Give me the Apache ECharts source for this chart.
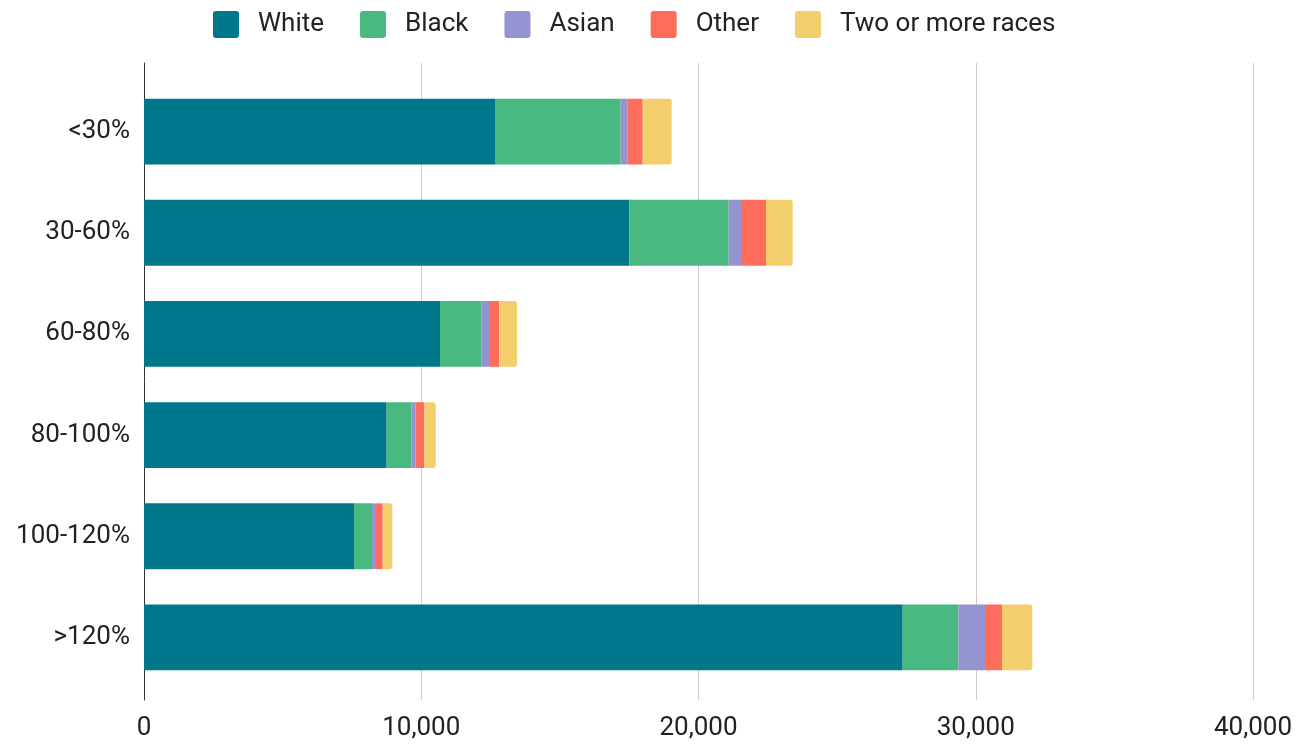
<!DOCTYPE html>
<html><head><meta charset="utf-8">
<script src="https://cdn.jsdelivr.net/npm/echarts@6/dist/echarts.min.js"></script>
<style>html,body{margin:0;padding:0;background:#fff}#c{width:1316px;height:746px}</style>
</head><body><div id="c"></div>
<script>
const categories = ['<30%', '30-60%', '60-80%', '80-100%', '100-120%', '>120%'];
const white = [12660, 17505, 10676, 8753, 7574, 27365];
const black = [4534, 3584, 1504, 902, 650, 2006];
const asian = [238, 480, 264, 145, 144, 999];
const other = [555, 866, 372, 311, 241, 577];
const twoOrMore = [1046, 963, 638, 410, 348, 1093];
const xTicks = [0, 10000, 20000, 30000, 40000];

const seriesDefs = [
  ['White', white, '#00778a'],
  ['Black', black, '#4ab981'],
  ['Asian', asian, '#9694d0'],
  ['Other', other, '#fe6d5b'],
  ['Two or more races', twoOrMore, '#f2cf6c']
];
const iconPath = 'path://M3,0H23A3,3 0 0 1 26,3V24A3,3 0 0 1 23,27H3A3,3 0 0 1 0,24V3A3,3 0 0 1 3,0Z';
const xMin = xTicks[0], xMax = xTicks[xTicks.length - 1];
const chart = echarts.init(document.getElementById('c'));
chart.setOption({
  animation: false,
  textStyle: { fontFamily: 'Roboto' },
  legend: {
    top: 6, left: 208, itemWidth: 26, itemHeight: 27, itemGap: 36,
    icon: iconPath,
    textStyle: { fontSize: 26, color: '#222', fontFamily: 'Roboto', padding: [0, 0, 0, 14] },
    data: seriesDefs.map(s => s[0])
  },
  grid: [
    { left: 144, right: 63, top: 81, bottom: 58 },
    { left: 144, right: 63, top: 63, bottom: 46 }
  ],
  xAxis: [
    { type: 'value', gridIndex: 0, min: xMin, max: xMax, interval: 10000, show: false },
    {
      type: 'value', gridIndex: 1, min: xMin, max: xMax, interval: 10000,
      axisLine: { show: false }, axisTick: { show: false },
      splitLine: { lineStyle: { color: '#cccccc' } },
      axisLabel: { fontSize: 26, color: '#222', margin: 15,
        formatter: v => v.toLocaleString('en-US') }
    }
  ],
  yAxis: [
    {
      type: 'category', gridIndex: 0, data: categories, inverse: true,
      axisLine: { show: false }, axisTick: { show: false },
      axisLabel: { fontSize: 26, color: '#222', margin: 14 }
    },
    {
      type: 'value', gridIndex: 1, min: 0, max: 1,
      axisLine: { show: true, lineStyle: { color: '#333' } },
      axisTick: { show: false }, axisLabel: { show: false }, splitLine: { show: false }
    }
  ],
  series: seriesDefs.map((s, i) => ({
    name: s[0], type: 'bar', stack: 'total', data: s[1], barWidth: '65%',
    xAxisIndex: 0, yAxisIndex: 0, z: 3,
    itemStyle: { color: s[2], borderRadius: i === seriesDefs.length - 1 ? [0, 3, 3, 0] : 0 }
  }))
});
</script></body></html>
